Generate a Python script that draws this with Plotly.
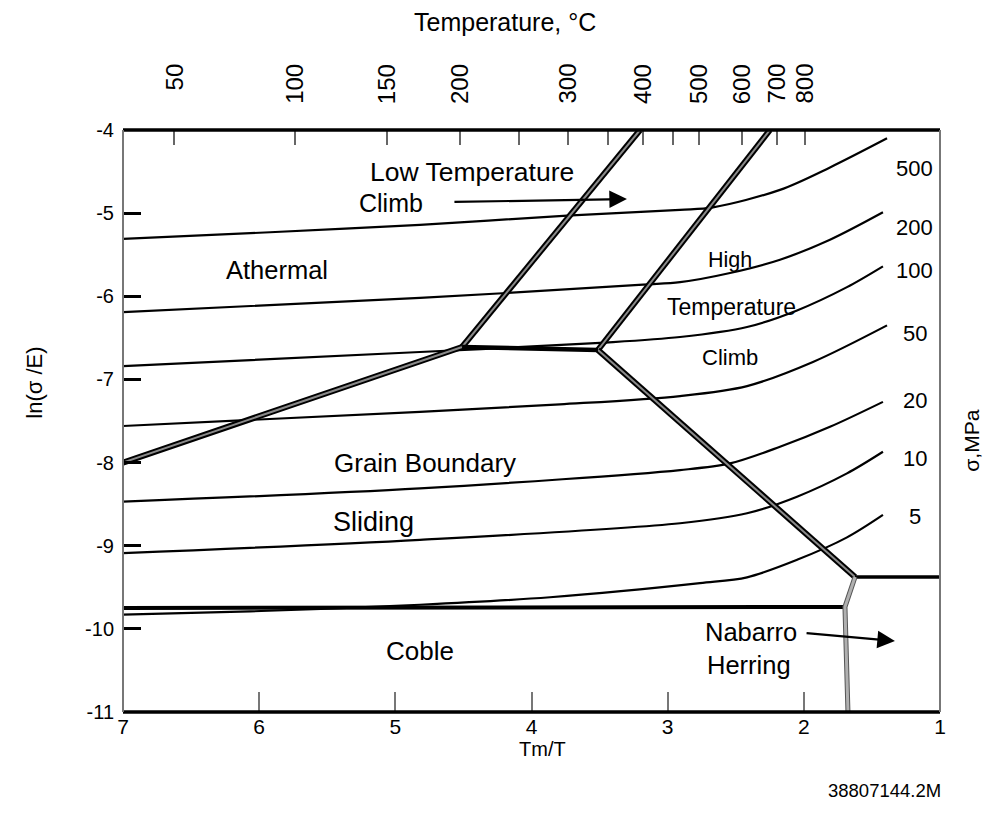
import plotly.graph_objects as go

# ---------------- data ----------------
Tm = 2140.0  # melting temperature (K) used for the top temperature scale
temp_ticks_C = [50, 100, 150, 200, 250, 300, 350, 400, 450, 500, 600, 700, 800]
temp_labels_C = [50, 100, 150, 200, 300, 400, 500, 600, 700, 800]

x_ticks = [7, 6, 5, 4, 3, 2, 1]
y_ticks = [-4, -5, -6, -7, -8, -9, -10, -11]

stress_labels = ["500", "200", "100", "50", "20", "10", "5"]
s500_x = [7.0, 5.92, 4.819, 3.739, 2.909, 2.667, 2.175, 1.808, 1.389]
s500_y = [-5.31, -5.23, -5.14, -5.03, -4.96, -4.93, -4.72, -4.45, -4.10]
s200_x = [7.0, 4.819, 3.181, 2.909, 2.542, 2.175, 1.808, 1.419]
s200_y = [-6.19, -6.02, -5.86, -5.83, -5.72, -5.56, -5.32, -4.99]
s100_x = [7.0, 4.819, 3.497, 2.909, 2.417, 2.050, 1.683, 1.419]
s100_y = [-6.84, -6.67, -6.56, -6.49, -6.37, -6.17, -5.89, -5.64]
s50_x = [7.0, 4.819, 3.791, 2.909, 2.417, 1.933, 1.389]
s50_y = [-7.56, -7.39, -7.30, -7.20, -7.08, -6.79, -6.35]
s20_x = [7.0, 4.819, 2.909, 2.542, 2.175, 1.808, 1.419]
s20_y = [-8.47, -8.31, -8.09, -8.01, -7.81, -7.57, -7.27]
s10_x = [7.0, 4.819, 2.909, 2.417, 2.050, 1.683, 1.419]
s10_y = [-9.09, -8.93, -8.73, -8.61, -8.41, -8.13, -7.87]
s5_x = [7.0, 6.067, 4.819, 3.864, 2.763, 2.417, 2.050, 1.683, 1.419]
s5_y = [-9.83, -9.79, -9.71, -9.62, -9.45, -9.38, -9.17, -8.90, -8.63]

# mechanism boundaries
ath_gbs_x = [7.0, 4.510]
ath_gbs_y = [-8.0, -6.610]
triple_x = [4.510, 3.512]
triple_y = [-6.610, -6.646]
ltc_x = [4.510, 3.203]
ltc_y = [-6.610, -4.0]
htc_x = [3.512, 2.249]
htc_y = [-6.646, -4.0]
diag_x = [3.512, 1.624]
diag_y = [-6.646, -9.376]
nh_top_x = [1.624, 1.0]
nh_top_y = [-9.376, -9.376]
coble_x = [7.0, 1.698]
coble_y = [-9.75, -9.737]
nh_x = [1.624, 1.698, 1.676]
nh_y = [-9.376, -9.737, -11.0]

FONT = "Liberation Sans, Arial, Helvetica, sans-serif"

fig = go.Figure()

curves = [(s500_x, s500_y), (s200_x, s200_y), (s100_x, s100_y), (s50_x, s50_y),
          (s20_x, s20_y), (s10_x, s10_y), (s5_x, s5_y)]
for (cx, cy), lab in zip(curves, stress_labels):
    fig.add_trace(go.Scatter(x=cx, y=cy, mode="lines", name=lab + " MPa",
                             line=dict(color="black", width=2.2, shape="spline", smoothing=0.9),
                             showlegend=False, hoverinfo="skip"))

# thick double boundaries (black outline with grey core)
for bx, by in [(ath_gbs_x, ath_gbs_y), (ltc_x, ltc_y), (htc_x, htc_y), (diag_x, diag_y)]:
    fig.add_trace(go.Scatter(x=bx, y=by, mode="lines", line=dict(color="black", width=6),
                             showlegend=False, hoverinfo="skip"))
    fig.add_trace(go.Scatter(x=bx, y=by, mode="lines", line=dict(color="#8a8a8a", width=2),
                             showlegend=False, hoverinfo="skip"))

for bx, by, w in [(triple_x, triple_y, 4.5), (coble_x, coble_y, 4), (nh_top_x, nh_top_y, 3.5)]:
    fig.add_trace(go.Scatter(x=bx, y=by, mode="lines", line=dict(color="black", width=w),
                             showlegend=False, hoverinfo="skip"))

# Nabarro-Herring boundary (grey)
fig.add_trace(go.Scatter(x=nh_x, y=nh_y, mode="lines", line=dict(color="#555555", width=5),
                         showlegend=False, hoverinfo="skip"))
fig.add_trace(go.Scatter(x=nh_x, y=nh_y, mode="lines", line=dict(color="#b0b0b0", width=3),
                         showlegend=False, hoverinfo="skip"))

# top temperature axis tick positions (Tm/T)
top_tick_pos = [Tm / (t + 273.0) for t in temp_ticks_C]
fig.add_trace(go.Scatter(x=top_tick_pos, y=[-4] * len(top_tick_pos), xaxis="x2", mode="markers",
                         marker=dict(size=0.1, color="rgba(0,0,0,0)"), showlegend=False,
                         hoverinfo="skip"))

fig.update_layout(
    width=998, height=818,
    margin=dict(l=123, r=58, t=130, b=106),
    paper_bgcolor="white", plot_bgcolor="white",
    font=dict(family=FONT, color="black", size=20),
    xaxis=dict(range=[7, 1], tickvals=x_ticks, ticktext=[str(v) for v in x_ticks],
               ticks="inside", ticklen=20, tickwidth=1.5, tickcolor="#777777",
               showgrid=False, zeroline=False, showline=False,
               tickfont=dict(size=21), ticklabelstandoff=0),
    xaxis2=dict(range=[7, 1], overlaying="x", side="top", tickvals=top_tick_pos,
                ticktext=["" for _ in top_tick_pos], ticks="inside", ticklen=15,
                tickwidth=1.5, tickcolor="#666666", showgrid=False, zeroline=False,
                showline=False),
    yaxis=dict(range=[-11, -4], tickvals=y_ticks, ticktext=[str(v) for v in y_ticks],
               ticks="inside", ticklen=18, tickwidth=2.5, tickcolor="black",
               showgrid=False, zeroline=False, showline=False,
               tickfont=dict(size=20), ticklabelstandoff=8),
)

# frame
fig.add_shape(type="line", xref="paper", yref="paper", x0=0, x1=1, y0=1, y1=1,
              line=dict(color="black", width=3.5), layer="above")
fig.add_shape(type="line", xref="paper", yref="paper", x0=0, x1=1, y0=0, y1=0,
              line=dict(color="black", width=3.5), layer="above")
fig.add_shape(type="line", xref="paper", yref="paper", x0=0, x1=0, y0=0, y1=1,
              line=dict(color="#777777", width=2), layer="above")
fig.add_shape(type="line", xref="paper", yref="paper", x0=1, x1=1, y0=0, y1=1,
              line=dict(color="#777777", width=2), layer="above")

ann = []
# top temperature labels
for t in temp_labels_C:
    ann.append(dict(x=Tm / (t + 273.0), xref="x", y=1.117, yref="paper", text=str(t),
                    textangle=-90, xanchor="center", yanchor="top", showarrow=False,
                    font=dict(size=24)))
ann.append(dict(x=0.468, xref="paper", y=1.186, yref="paper", text="Temperature, °C",
                showarrow=False, font=dict(size=25), xanchor="center", yanchor="middle"))
ann.append(dict(x=0.513, xref="paper", y=-0.064, yref="paper", text="Tm/T",
                showarrow=False, font=dict(size=20), xanchor="center", yanchor="middle"))
ann.append(dict(x=-0.126, xref="paper", y=0.565, yref="paper", text="ln(σ /E)",
                textangle=-90, showarrow=False, font=dict(size=22)))
ann.append(dict(x=1.055, xref="paper", y=0.467, yref="paper", text="σ,MPa",
                textangle=-90, showarrow=False, font=dict(size=21)))
ann.append(dict(x=1.004, xref="paper", y=-0.156, yref="paper", text="38807144.2M",
                xanchor="right", showarrow=False, font=dict(size=18.5)))

# stress labels on right
label_y = [-4.457, -5.167, -5.684, -6.442, -7.248, -7.945, -8.643]
for lab, ly in zip(stress_labels, label_y):
    ann.append(dict(x=1.184, xref="x", y=ly, yref="y", text=lab, showarrow=False,
                    font=dict(size=22)))

# region labels
regions = [
    ("Low Temperature", 4.437, -4.505, 26.5),
    ("Climb", 5.032, -4.878, 25),
    ("Athermal", 5.869, -5.684, 25.5),
    ("High", 2.542, -5.564, 21.5),
    ("Temperature", 2.528, -6.129, 23),
    ("Climb", 2.542, -6.742, 22),
    ("Grain Boundary", 4.782, -8.005, 26),
    ("Sliding", 5.164, -8.715, 27),
    ("Coble", 4.819, -10.267, 26),
    ("Nabarro", 2.388, -10.038, 25.5),
    ("Herring", 2.403, -10.435, 25.5),
]
for txt, rx, ry, fs in regions:
    ann.append(dict(x=rx, y=ry, xref="x", yref="y", text=txt, showarrow=False,
                    font=dict(size=fs)))

# arrows
ann.append(dict(x=3.299, y=-4.830, ax=4.577, ay=-4.866, xref="x", yref="y", axref="x", ayref="y",
                text="", showarrow=True, arrowhead=2, arrowsize=1.6, arrowwidth=2.2,
                arrowcolor="black"))
ann.append(dict(x=1.331, y=-10.146, ax=1.991, ay=-10.050, xref="x", yref="y", axref="x",
                ayref="y", text="", showarrow=True, arrowhead=2, arrowsize=1.6, arrowwidth=2.2,
                arrowcolor="black"))

fig.update_layout(annotations=ann)
fig.write_html("out.html")
